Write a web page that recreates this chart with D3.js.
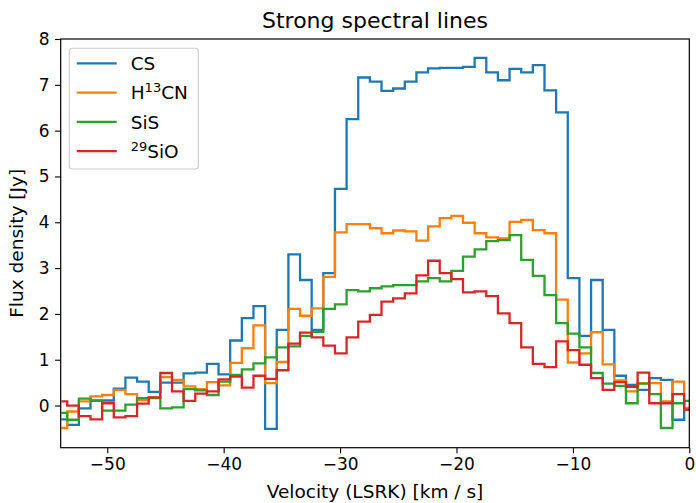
<!DOCTYPE html>
<html>
<head>
<meta charset="utf-8">
<script src="https://cdn.jsdelivr.net/npm/d3@7"></script>
<style>
  body { margin: 0; background: #fff; }
  text { font-family: "DejaVu Sans", sans-serif; fill: #000; }
</style>
</head>
<body>
<div id="chart"></div>
<script>
// channel centres [km/s]
const velocity = [-53.94, -52.94, -51.94, -50.94, -49.94, -48.94, -47.94, -46.94, -45.94, -44.94,
  -43.94, -42.94, -41.94, -40.94, -39.94, -38.94, -37.94, -36.94, -35.94, -34.94,
  -33.94, -32.94, -31.94, -30.94, -29.94, -28.94, -27.94, -26.94, -25.94, -24.94,
  -23.94, -22.94, -21.94, -20.94, -19.94, -18.94, -17.94, -16.94, -15.94, -14.94,
  -13.94, -12.94, -11.94, -10.94, -9.94, -8.94, -7.94, -6.94, -5.94, -4.94,
  -3.94, -2.94, -1.94, -0.94, 0.06];

// flux density [Jy] per channel
const csFlux = [-0.30, -0.42, -0.06, 0.11, 0.11, 0.37, 0.61, 0.52, 0.30, 0.50,
  0.50, 0.70, 0.72, 0.91, 0.68, 1.42, 1.91, 2.17, -0.51, 1.65,
  3.30, 2.74, 1.65, 2.89, 4.73, 6.25, 7.16, 7.07, 6.87, 6.92,
  7.07, 7.27, 7.36, 7.37, 7.37, 7.39, 7.59, 7.27, 7.10, 7.35,
  7.27, 7.43, 6.88, 6.40, 2.78, 1.52, 2.74, 1.65, 0.65, 0.45,
  0.34, 0.60, 0.56, -0.31, -0.09];
const h13cnFlux = [-0.49, -0.13, 0.09, 0.20, 0.23, 0.34, 0.25, 0.12, 0.17, 0.62,
  0.56, 0.42, 0.36, 0.51, 0.44, 0.93, 1.25, 1.75, 0.49, 0.95,
  2.11, 1.96, 2.12, 2.81, 3.78, 3.96, 3.96, 3.87, 3.76, 3.82,
  3.80, 3.60, 3.91, 4.09, 4.14, 3.99, 3.76, 3.67, 3.65, 4.01,
  4.05, 3.83, 3.76, 2.31, 0.94, 1.14, 1.60, 0.90, 0.55, 0.31,
  0.49, 0.49, 0.09, 0.52, -0.05];
const sisFlux = [-0.16, -0.31, 0.15, 0.10, -0.11, -0.11, 0.02, 0.16, 0.16, -0.06,
  -0.04, 0.36, 0.33, 0.23, 0.52, 0.67, 0.79, 0.92, 1.05, 1.27,
  1.29, 1.52, 1.61, 2.11, 2.21, 2.52, 2.49, 2.56, 2.60, 2.63,
  2.63, 2.71, 2.78, 2.71, 2.94, 3.25, 3.41, 3.59, 3.61, 3.72,
  3.18, 2.83, 2.41, 1.80, 1.57, 1.27, 0.71, 0.48, 0.43, 0.05,
  0.48, 0.25, -0.49, 0.05, 0.10];
const sio29Flux = [0.09, 0.00, -0.23, -0.30, 0.05, -0.26, -0.23, 0.04, 0.18, 0.71,
  0.31, 0.10, 0.26, 0.31, 0.57, 0.63, 0.39, 0.65, 0.58, 0.77,
  1.35, 1.59, 1.49, 1.31, 1.14, 1.49, 1.83, 1.98, 2.27, 2.34,
  2.45, 2.84, 3.16, 2.89, 2.76, 2.47, 2.49, 2.39, 2.01, 1.80,
  1.27, 0.91, 0.84, 1.40, 1.21, 0.89, 0.60, 0.34, 0.51, 0.41,
  0.72, 0.05, 0.05, 0.25, -0.09];

const seriesNames = ["CS", "H13CN", "SiS", "29SiO"];
const seriesColors = ["#1f77b4", "#ff7f0e", "#2ca02c", "#d62728"];
const xTicks = [-50, -40, -30, -20, -10, 0];
const yTicks = [0, 1, 2, 3, 4, 5, 6, 7, 8];

const series = [csFlux, h13cnFlux, sisFlux, sio29Flux].map((vals, i) => ({
  name: seriesNames[i],
  color: seriesColors[i],
  values: vals.map((f, j) => ({v: velocity[j], f: f}))
}));

// plot area
const margin = {top: 39, right: 6.7, bottom: 55.3, left: 60.7};
const W = 696, H = 503;
const width = W - margin.left - margin.right;
const height = H - margin.top - margin.bottom;

const svg = d3.select("#chart")
  .append("svg")
  .attr("width", W)
  .attr("height", H);

const g = svg.append("g")
  .attr("transform", `translate(${margin.left},${margin.top})`);

const x = d3.scaleLinear().domain([-54, 0]).range([0, width]);
const y = d3.scaleLinear().domain([-0.92, 8]).range([height, 0]);

g.append("clipPath").attr("id", "plot-clip")
  .append("rect").attr("width", width).attr("height", height);

// step lines (steps-mid)
const line = d3.line()
  .x(d => x(d.v))
  .y(d => y(d.f))
  .curve(d3.curveStep);

g.append("g")
  .attr("clip-path", "url(#plot-clip)")
  .selectAll("path")
  .data(series)
  .enter()
  .append("path")
  .attr("fill", "none")
  .attr("stroke", d => d.color)
  .attr("stroke-width", 2.3)
  .attr("stroke-linejoin", "miter")
  .attr("d", d => line(d.values));

// axes
const xAxis = d3.axisBottom(x).tickValues(xTicks).tickSize(5.6).tickSizeOuter(0).tickPadding(5);
const yAxis = d3.axisLeft(y).tickValues(yTicks).tickSize(5.6).tickSizeOuter(0).tickPadding(5.6);

const gx = g.append("g")
  .attr("transform", `translate(0,${height})`)
  .call(xAxis);
const gy = g.append("g").call(yAxis);

[gx, gy].forEach(a => {
  a.select(".domain").remove();
  a.selectAll(".tick line").attr("stroke", "#000").attr("stroke-width", 1.1);
  a.selectAll(".tick text")
    .style("font-family", "DejaVu Sans")
    .style("font-size", "17px")
    .attr("fill", "#000");
});

// spines
g.append("rect")
  .attr("width", width)
  .attr("height", height)
  .attr("fill", "none")
  .attr("stroke", "#000")
  .attr("stroke-width", 1.2);

// title and axis labels
svg.append("text")
  .attr("x", margin.left + width / 2)
  .attr("y", 28)
  .attr("text-anchor", "middle")
  .style("font-size", "22px")
  .text("Strong spectral lines");

svg.append("text")
  .attr("x", margin.left + width / 2)
  .attr("y", 498)
  .attr("text-anchor", "middle")
  .style("font-size", "18.5px")
  .text("Velocity (LSRK) [km / s]");

svg.append("text")
  .attr("transform", `translate(23,${margin.top + height / 2}) rotate(-90)`)
  .attr("text-anchor", "middle")
  .style("font-size", "18.5px")
  .text("Flux density [Jy]");

// legend
const legend = svg.append("g").attr("transform", "translate(69.3,48.3)");

legend.append("rect")
  .attr("width", 129)
  .attr("height", 120.7)
  .attr("rx", 3)
  .attr("fill", "#fff")
  .attr("fill-opacity", 0.8)
  .attr("stroke", "#cccccc")
  .attr("stroke-width", 1.1);

const item = legend.selectAll(".legend-item")
  .data(series)
  .enter()
  .append("g")
  .attr("class", "legend-item")
  .attr("transform", (d, i) => `translate(0,${15 + i * 29.3})`);

item.append("line")
  .attr("x1", 7.4)
  .attr("x2", 47.4)
  .attr("stroke", d => d.color)
  .attr("stroke-width", 2.3);

const label = item.append("text")
  .attr("x", 61.4)
  .attr("y", 6.6)
  .style("font-size", "18.5px");

label.each(function(d) {
  const t = d3.select(this);
  if (d.name === "H13CN") {
    t.append("tspan").text("H");
    t.append("tspan").attr("dy", -7).style("font-size", "13px").text("13");
    t.append("tspan").attr("dy", 7).text("CN");
  } else if (d.name === "29SiO") {
    t.append("tspan").attr("dy", -7).style("font-size", "13px").text("29");
    t.append("tspan").attr("dy", 7).text("SiO");
  } else {
    t.text(d.name);
  }
});
</script>
</body>
</html>
